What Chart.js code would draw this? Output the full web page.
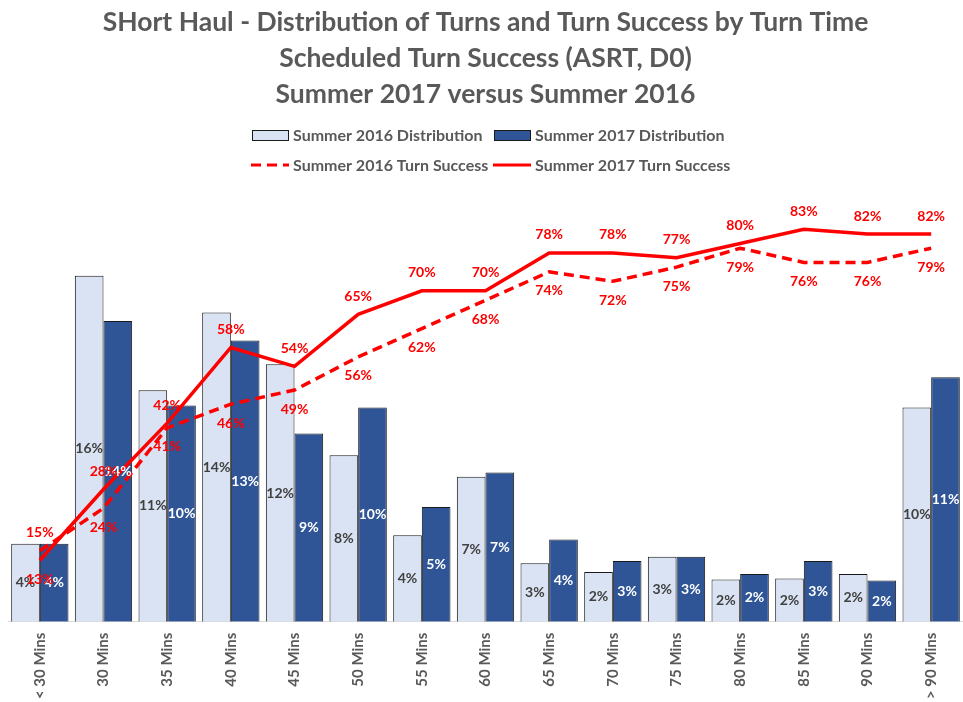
<!DOCTYPE html>
<html>
<head>
<meta charset="utf-8">
<script src="https://cdn.jsdelivr.net/npm/chart.js@4.4.1/dist/chart.umd.min.js"></script>
<style>
  html, body { margin: 0; padding: 0; background: #fff; }
  #wrap { width: 963px; height: 702px; position: relative; }
</style>
</head>
<body>
<div id="wrap"><canvas id="turnChart"></canvas></div>
<script>
// Catégories et valeurs
const categories = ['< 30 Mins', '30 Mins', '35 Mins', '40 Mins', '45 Mins', '50 Mins', '55 Mins', '60 Mins',
  '65 Mins', '70 Mins', '75 Mins', '80 Mins', '85 Mins', '90 Mins', '> 90 Mins'];
const dist2016 = [3.6, 16.0, 10.7, 14.3, 11.9, 7.7, 4.0, 6.7, 2.7, 2.3, 3.0, 1.95, 2.0, 2.2, 9.9];
const dist2017 = [3.6, 13.9, 10.0, 13.0, 8.7, 9.9, 5.3, 6.9, 3.8, 2.8, 3.0, 2.2, 2.8, 1.9, 11.3];
const success2016 = [15, 24, 41, 46, 49, 56, 62, 68, 74, 72, 75, 79, 76, 76, 79];
const success2017 = [13, 28, 42, 58, 54, 65, 70, 70, 78, 78, 77, 80, 83, 82, 82];

const FONT = 'Lato, Calibri, "Open Sans", sans-serif';
const GREY = '#595959';

// Étiquettes de valeurs (pas de plugin datalabels disponible)
const valueLabels = {
  id: 'valueLabels',
  afterDatasetsDraw(chart) {
    const ctx = chart.ctx;
    ctx.save();
    ctx.font = 'bold 14px ' + FONT;
    ctx.textAlign = 'center';
    ctx.textBaseline = 'middle';
    chart.data.datasets.forEach((ds, i) => {
      const meta = chart.getDatasetMeta(i);
      meta.data.forEach((el, j) => {
        const txt = Math.round(ds.data[j]) + '%';
        let y;
        if (ds.type === 'bar') {
          y = (el.y + el.base) / 2;
        } else {
          const above = ds.labelAbove(j);
          y = above ? el.y - 18 : el.y + 19;
        }
        ctx.fillStyle = ds.labelColor;
        ctx.fillText(txt, el.x, y);
      });
    });
    ctx.restore();
  }
};

// Légende sur deux lignes
const twoRowLegend = {
  id: 'twoRowLegend',
  afterDraw(chart) {
    const ctx = chart.ctx;
    const cols = [251, 493];
    const rows = [135, 165];
    ctx.save();
    ctx.font = 'bold 16px ' + FONT;
    ctx.textBaseline = 'middle';
    ctx.textAlign = 'left';
    chart.data.datasets.forEach((ds, i) => {
      const x = cols[i % 2];
      const y = rows[Math.floor(i / 2)];
      if (ds.type === 'bar') {
        ctx.fillStyle = ds.backgroundColor;
        ctx.fillRect(x + 1, y - 5, 36, 10);
        ctx.strokeStyle = '#1a1a1a';
        ctx.lineWidth = 1;
        ctx.strokeRect(x + 1.5, y - 4.5, 36, 10);
      } else {
        ctx.strokeStyle = ds.borderColor;
        ctx.lineWidth = 3;
        ctx.setLineDash(ds.borderDash || []);
        ctx.beginPath();
        ctx.moveTo(x, y);
        ctx.lineTo(x + 38, y);
        ctx.stroke();
        ctx.setLineDash([]);
      }
      ctx.fillStyle = GREY;
      ctx.fillText(ds.label, x + 42, y + 1);
    });
    ctx.restore();
  }
};

const ctx = document.getElementById('turnChart').getContext('2d');
new Chart(ctx, {
  data: {
    labels: categories,
    datasets: [{
      type: 'bar',
      label: 'Summer 2016 Distribution',
      data: dist2016,
      backgroundColor: '#dae3f3',
      borderColor: '#1a1a1a',
      borderWidth: 1,
      yAxisID: 'y',
      order: 2,
      labelColor: '#404040'
    }, {
      type: 'bar',
      label: 'Summer 2017 Distribution',
      data: dist2017,
      backgroundColor: '#2f5597',
      borderColor: '#1a1a1a',
      borderWidth: 1,
      yAxisID: 'y',
      order: 2,
      labelColor: '#ffffff'
    }, {
      type: 'line',
      label: 'Summer 2016 Turn Success',
      data: success2016,
      borderColor: '#ff0000',
      borderWidth: 3.5,
      borderDash: [10, 6],
      pointRadius: 0,
      tension: 0,
      yAxisID: 'y2',
      order: 0,
      labelColor: '#ff0000',
      labelAbove: j => j === 0
    }, {
      type: 'line',
      label: 'Summer 2017 Turn Success',
      data: success2017,
      borderColor: '#ff0000',
      borderWidth: 3.5,
      pointRadius: 0,
      tension: 0,
      yAxisID: 'y2',
      order: 1,
      labelColor: '#ff0000',
      labelAbove: j => j !== 0
    }]
  },
  options: {
    responsive: true,
    maintainAspectRatio: false,
    animation: false,
    layout: { padding: { left: 8, right: 0, top: 0, bottom: 0 } },
    datasets: {
      bar: { categoryPercentage: 0.9, barPercentage: 1.0 }
    },
    plugins: {
      legend: { display: false },
      tooltip: { enabled: false },
      title: {
        display: true,
        text: ['SHort Haul - Distribution of Turns and Turn Success by Turn Time',
          'Scheduled Turn Success (ASRT, D0)',
          'Summer 2017 versus Summer 2016'],
        color: GREY,
        font: { family: FONT, size: 26.5, weight: 'bold', lineHeight: 1.36 },
        padding: { top: 4, bottom: 77 }
      }
    },
    scales: {
      x: {
        grid: { display: false },
        border: { display: true, color: '#d9d9d9', width: 1 },
        ticks: {
          color: GREY,
          font: { family: FONT, size: 15, weight: 'bold' },
          minRotation: 90,
          maxRotation: 90,
          padding: 3
        }
      },
      y: { display: false, min: 0, max: 20 },
      y2: { display: false, min: 0, max: 91.5, position: 'right' }
    }
  },
  plugins: [valueLabels, twoRowLegend]
});
</script>
</body>
</html>
